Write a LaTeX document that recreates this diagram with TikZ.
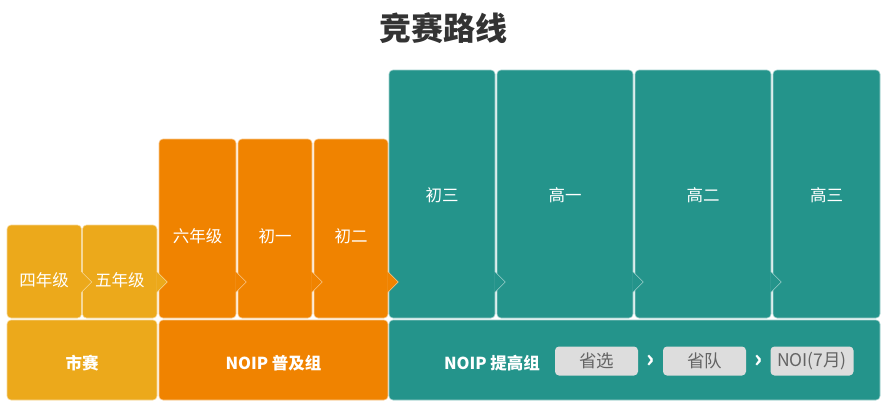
\documentclass[tikz,border=0pt]{standalone}
\usepackage{fontspec}
\setmainfont{Noto Sans CJK SC}
\usetikzlibrary{calc}
\definecolor{saicolor}{RGB}{236,169,27}
\definecolor{pujicolor}{RGB}{240,131,0}
\definecolor{tigaocolor}{RGB}{36,148,139}
\definecolor{pillgray}{RGB}{221,221,221}
\definecolor{pilltext}{RGB}{100,100,100}
\definecolor{titlegray}{RGB}{51,51,51}
\tikzset{
  stage/.style={rectangle, rounded corners=4pt, inner sep=0pt, line width=0.6pt},
  gradetext/.style={text=white, font=\fontsize{16.5}{16.5}\selectfont},
  grouptext/.style={text=white, font=\bfseries\fontsize{16.5}{16.5}\selectfont},
  pill/.style={rectangle, rounded corners=4pt, fill=pillgray, text=pilltext, inner sep=0pt,
    minimum width=83pt, minimum height=29pt, font=\fontsize{17.5}{17.5}\selectfont}
}
\begin{document}
\begin{tikzpicture}[x=1pt, y=-1pt]
  \useasboundingbox (0,0) rectangle (895,410);
  \node[text=titlegray, font=\bfseries\fontsize{32}{32}\selectfont] (title) at (443,28) {竞赛路线};
  \coordinate (tabline) at (0,282);
  % grade boxes
  \foreach \name/\xl/\xr/\ytop/\col/\txt/\ty in {g4/7/81.5/225/saicolor/四年级/280,
      g5/82.5/157/225/saicolor/五年级/280, g6/159/236/139/pujicolor/六年级/236,
      c1/238/312/139/pujicolor/初一/236, c2/314/388/139/pujicolor/初二/236,
      c3/389/495/70/tigaocolor/初三/195, h1/497/633/70/tigaocolor/高一/195,
      h2/635/771/70/tigaocolor/高二/195, h3/773/880/70/tigaocolor/高三/195} {
    \node[stage, fill=\col, draw=white!55!\col, minimum width={\xr-\xl}, minimum height={318-\ytop}]
      (\name) at ({(\xl+\xr)/2},{(\ytop+318)/2}) {};
    \node[gradetext] (\name t) at ({(\xl+\xr)/2},\ty) {\txt};
  }
  % tabs
  \foreach \a/\col in {g4/saicolor, g5/saicolor, g6/pujicolor, c1/pujicolor, c2/pujicolor,
      c3/tigaocolor, h1/tigaocolor, h2/tigaocolor} {
    \fill[\col] ($(\a.east |- tabline)+(-1,-10)$) -- ++(1,0) -- ++(10,10) -- ++(-10,10) -- ++(-1,0) -- cycle;
    \draw[white!55!\col, line width=0.6pt] ($(\a.east |- tabline)+(0,-10)$) -- ++(10,10) -- ++(-10,10);
  }
  % groups
  \node[stage, fill=saicolor, draw=white!55!saicolor, minimum width=150, minimum height=80] (shisai) at (82,360) {};
  \node[stage, fill=pujicolor, draw=white!55!pujicolor, minimum width=229, minimum height=80] (puji) at (273.5,360) {};
  \node[stage, fill=tigaocolor, draw=white!55!tigaocolor, minimum width=491, minimum height=80] (tigao) at (634.5,360) {};
  \node[grouptext] (shisait) at (82,363) {市赛};
  \node[grouptext] (pujit) at (273.5,363) {NOIP 普及组};
  \node[grouptext] (tigaot) at (492,363) {NOIP 提高组};
  \node[pill] (shengxuan) at (596.5,361) {省选};
  \node[pill] (shengdui) at (704.5,361) {省队};
  \node[pill] (noi) at (812,361) {NOI(7月)};
  \node[grouptext, font=\bfseries\fontsize{24}{24}\selectfont] (arrowa) at ($(shengxuan.east)!0.5!(shengdui.west)$) {›};
  \node[grouptext, font=\bfseries\fontsize{24}{24}\selectfont] (arrowb) at ($(shengdui.east)!0.5!(noi.west)$) {›};
\end{tikzpicture}
\end{document}
